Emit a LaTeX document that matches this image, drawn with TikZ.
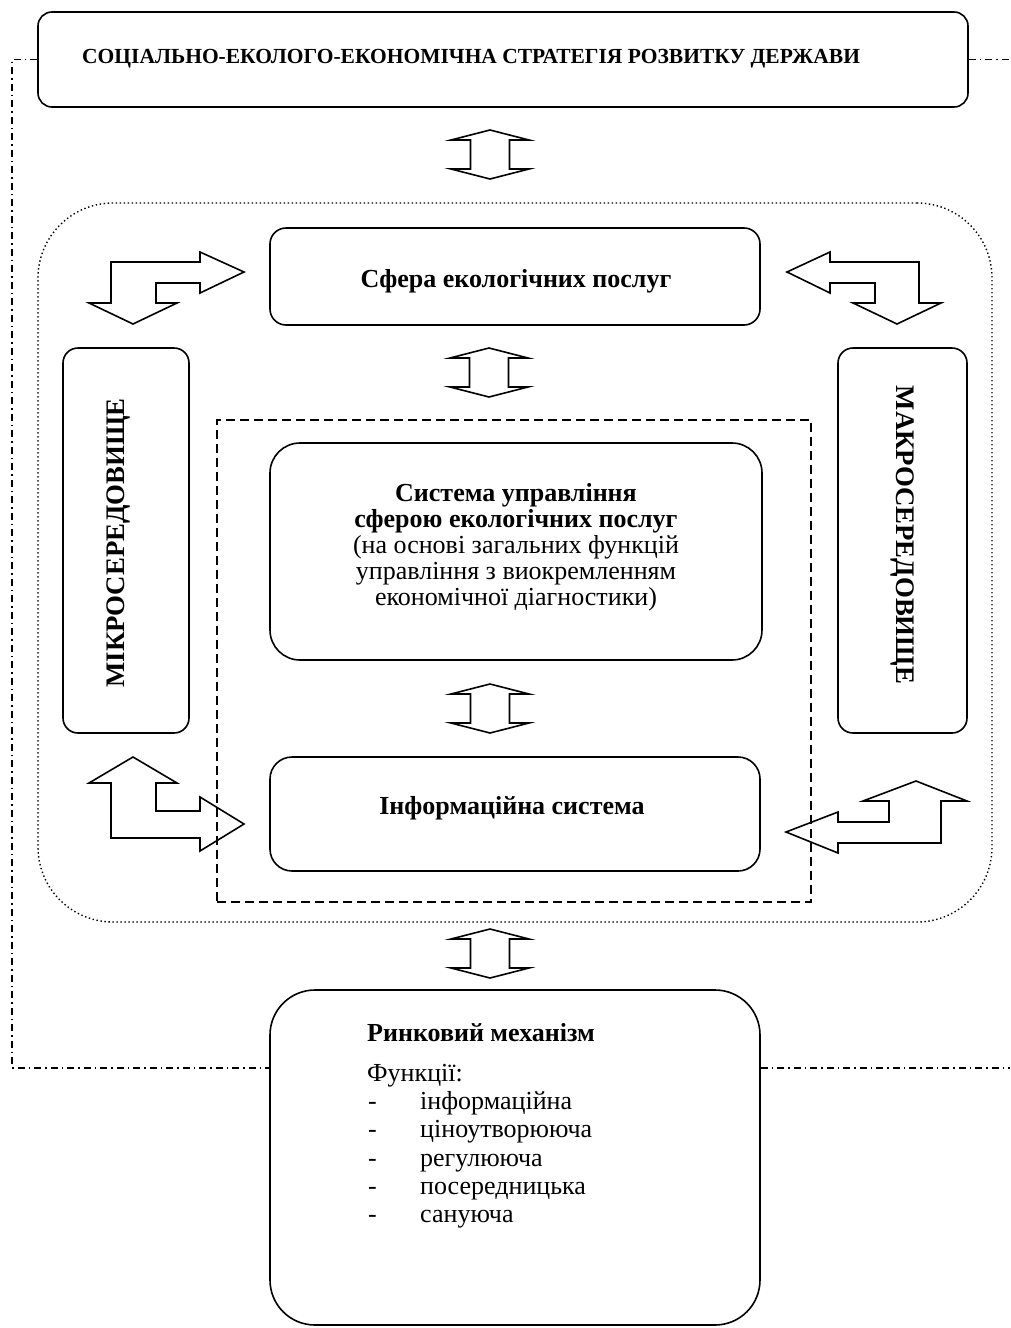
\documentclass[tikz,border=0pt]{standalone}
\usepackage{fontspec}
\setmainfont{Liberation Serif}
\newcommand\bodyf{\fontsize{26}{26}\selectfont}
\begin{document}
\begin{tikzpicture}[x=1pt,y=-1pt,
  box/.style={draw, line width=1.6pt, inner sep=0pt},
  arr/.style={draw, line width=1.6pt, line join=miter},
  dotframe/.style={draw, line width=1.4pt, dash pattern=on 1.4pt off 2.6pt, rounded corners=75pt, inner sep=0pt},
  dashframe/.style={draw, line width=1.7pt, dash pattern=on 9pt off 5pt, inner sep=0pt},
  dashdot/.style={line width=1.1pt, dash pattern=on 7pt off 4pt on 1.5pt off 4pt},
  txt/.style={inner sep=0pt, font=\bodyf},
  btxt/.style={inner sep=0pt, font=\bodyf\bfseries},
  ltxt/.style={inner sep=0pt, font=\bodyf, anchor=base west},
  vtxt/.style={inner sep=0pt, font=\fontsize{26.8}{28}\selectfont\bfseries},
  dblarr/.pic={\draw[arr] (0,0) -- (-39,10) -- (-19.5,10) -- (-19.5,39) -- (-39,39) -- (0,49)
      -- (39,39) -- (19.5,39) -- (19.5,10) -- (39,10) -- cycle;}
]
\useasboundingbox (0,0) rectangle (1010,1328);

% top strategy box
\node[box, rounded corners=14pt, minimum width=930pt, minimum height=95pt] (strat) at (503,59.5) {};
\node[inner sep=0pt, anchor=west, font=\fontsize{21.5}{24}\selectfont\bfseries] (stratT) at (82,59) {СОЦІАЛЬНО-ЕКОЛОГО-ЕКОНОМІЧНА СТРАТЕГІЯ РОЗВИТКУ ДЕРЖАВИ};

% environment frames
\node[dotframe, minimum width=954pt, minimum height=719pt] (env) at (515,562.5) {};
\node[dashframe, minimum width=594pt, minimum height=482pt] (core) at (514,661) {};

% boxes
\node[box, rounded corners=16pt, minimum width=490pt, minimum height=97pt] (sfera) at (515,276.5) {};
\node[btxt] (sferaT) at (516,281) {Сфера екологічних послуг};

\node[box, rounded corners=15pt, minimum width=126pt, minimum height=385pt] (micro) at (126,540.5) {};
\node[vtxt, rotate=90] (microT) at (118,543) {МІКРОСЕРЕДОВИЩЕ};

\node[box, rounded corners=15pt, minimum width=129pt, minimum height=385pt] (macro) at (902.5,540.5) {};
\node[vtxt, rotate=-90] (macroT) at (903,535) {МАКРОСЕРЕДОВИЩЕ};

\node[box, rounded corners=30pt, minimum width=492pt, minimum height=217pt] (mgmt) at (516,551.5) {};
\node[txt, align=center] (mgmtT) at (516,547) {\textbf{Система управління}\\\textbf{сферою екологічних послуг}\\(на основі загальних функцій\\управління з виокремленням\\економічної діагностики)};

\node[box, rounded corners=22pt, minimum width=490pt, minimum height=114pt] (info) at (515,814) {};
\node[btxt] (infoT) at (512,808) {Інформаційна система};

\node[box, rounded corners=45pt, minimum width=490pt, minimum height=335pt] (market) at (515,1157.5) {};
\node[ltxt, font=\bodyf\bfseries] (marketT) at (367,1041) {Ринковий механізм};
\node[ltxt] (fnT) at (367,1081) {Функції:};
\node[ltxt] (d1) at (368,1109) {-};
\node[ltxt] (i1) at (420,1109) {інформаційна};
\node[ltxt] (d2) at (368,1137) {-};
\node[ltxt] (i2) at (420,1137) {ціноутворююча};
\node[ltxt] (d3) at (368,1166) {-};
\node[ltxt] (i3) at (420,1166) {регулююча};
\node[ltxt] (d4) at (368,1194) {-};
\node[ltxt] (i4) at (420,1194) {посередницька};
\node[ltxt] (d5) at (368,1222) {-};
\node[ltxt] (i5) at (420,1222) {сануюча};

% vertical double arrows
\pic at (490,130) {dblarr};
\pic at (489,348) {dblarr};
\pic at (490,684) {dblarr};
\pic at (490,929) {dblarr};

% corner arrows
\draw[arr] (111,262) -- (200,262) -- (200,252) -- (244,272) -- (200,293) -- (200,283) -- (156,283)
  -- (156,303) -- (177,303) -- (133,324) -- (89,303) -- (111,303) -- cycle;
\draw[arr] (919,262) -- (830,262) -- (830,252) -- (787,272) -- (830,293) -- (830,283) -- (875,283)
  -- (875,303) -- (853,303) -- (897,324) -- (941,303) -- (919,303) -- cycle;
\draw[arr] (133,757) -- (177,783) -- (156,783) -- (156,811) -- (200,811) -- (200,797) -- (244,824)
  -- (200,851) -- (200,838) -- (111,838) -- (111,783) -- (89,783) -- cycle;
\draw[arr] (916,781) -- (967,801) -- (941,801) -- (941,843) -- (838,843) -- (838,853) -- (786,832)
  -- (838,812) -- (838,822) -- (889,822) -- (889,801) -- (863,801) -- cycle;

% dash-dot feedback lines
\coordinate (lcorner) at (12,1068);
\coordinate (rtop) at (1010,59.5);
\coordinate (rbot) at (1010,1068);
\draw[dashdot] (strat.west) -| (lcorner) -- (market.west |- lcorner);
\draw[dashdot] (strat.east) -- (rtop);
\draw[dashdot] (market.east |- rbot) -- (rbot);
\end{tikzpicture}
\end{document}
